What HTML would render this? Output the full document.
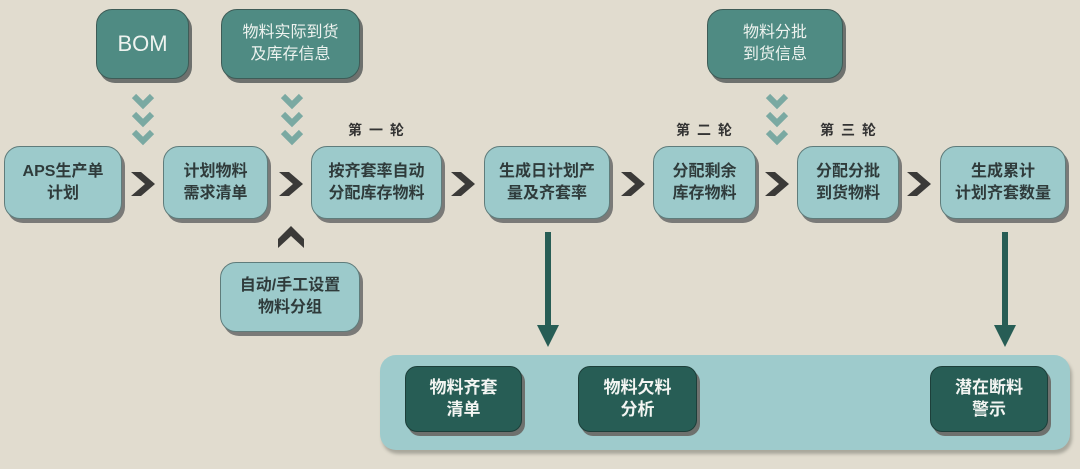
<!DOCTYPE html>
<html><head><meta charset="utf-8"><style>
body{margin:0;width:1080px;height:469px;background:#e1dccf;position:relative;overflow:hidden;font-family:"Liberation Sans","Noto Sans CJK SC",sans-serif}
.b{position:absolute;box-sizing:border-box;border-radius:16px;display:flex;align-items:center;justify-content:center;text-align:center;line-height:22px}
.l{background:#9ccacb;border:1px solid #5f7c7b;box-shadow:3px 4px 0 #7a7a78;color:#2f3b3b;font-weight:bold;font-size:16px}
.t{background:#4f8b83;border:1px solid #3e5c57;box-shadow:3px 4px 0 #6e716e;color:#eef3ef;font-size:16px}
.d{background:#275d55;border:1px solid #1d3f3a;box-shadow:3px 4px 0 #6e716e;color:#f3f5f2;font-weight:bold;font-size:17px;border-radius:12px}
.r{position:absolute;font-size:14px;color:#333;letter-spacing:7px;font-weight:bold}
svg{position:absolute;left:0;top:0}
</style></head><body>
<div class="b t" style="left:96px;top:9px;width:93px;height:70px;font-size:22px">BOM</div>
<div class="b t" style="left:221px;top:9px;width:139px;height:70px">物料实际到货<br>及库存信息</div>
<div class="b t" style="left:707px;top:9px;width:136px;height:70px">物料分批<br>到货信息</div>

<div class="b l" style="left:4px;top:146px;width:118px;height:73px">APS生产单<br>计划</div>
<div class="b l" style="left:163px;top:146px;width:105px;height:73px">计划物料<br>需求清单</div>
<div class="b l" style="left:311px;top:146px;width:131px;height:73px">按齐套率自动<br>分配库存物料</div>
<div class="b l" style="left:484px;top:146px;width:126px;height:73px">生成日计划产<br>量及齐套率</div>
<div class="b l" style="left:653px;top:146px;width:103px;height:73px">分配剩余<br>库存物料</div>
<div class="b l" style="left:797px;top:146px;width:102px;height:73px">分配分批<br>到货物料</div>
<div class="b l" style="left:940px;top:146px;width:126px;height:73px">生成累计<br>计划齐套数量</div>
<div class="b l" style="left:220px;top:262px;width:140px;height:70px">自动/手工设置<br>物料分组</div>

<div class="r" style="left:348px;top:120px">第一轮</div>
<div class="r" style="left:676px;top:120px">第二轮</div>
<div class="r" style="left:820px;top:120px">第三轮</div>

<div class="b" style="left:380px;top:355px;width:690px;height:95px;background:#9ecbcc;border-radius:16px;box-shadow:2px 4px 3px #a9a79c"></div>
<div class="b d" style="left:405px;top:366px;width:117px;height:66px">物料齐套<br>清单</div>
<div class="b d" style="left:578px;top:366px;width:119px;height:66px">物料欠料<br>分析</div>
<div class="b d" style="left:930px;top:366px;width:118px;height:66px">潜在断料<br>警示</div>

<svg width="1080" height="469">
<g fill="none" stroke="#7aa9a2" stroke-width="6">
<path d="M134 96l9 9 9-9M134 114l9 9 9-9M134 132l9 9 9-9"/>
<path d="M283 96l9 9 9-9M283 114l9 9 9-9M283 132l9 9 9-9"/>
<path d="M768 96l9 9 9-9M768 114l9 9 9-9M768 132l9 9 9-9"/>
</g>
<g fill="#3b3a38">
<path d="M131 172h10l14 12-14 12h-10l14-12z"/>
<path d="M279 172h10l14 12-14 12h-10l14-12z"/>
<path d="M451 172h10l14 12-14 12h-10l14-12z"/>
<path d="M621 172h10l14 12-14 12h-10l14-12z"/>
<path d="M765 172h10l14 12-14 12h-10l14-12z"/>
<path d="M907 172h10l14 12-14 12h-10l14-12z"/>
<path d="M278 248v-9l13-13 13 13v9l-13-12z"/>
</g>
<g fill="#275d55">
<rect x="545" y="232" width="6" height="95"/><path d="M537 325h22l-11 22z"/>
<rect x="1002" y="232" width="6" height="95"/><path d="M994 325h22l-11 22z"/>
</g>
</svg>
</body></html>
